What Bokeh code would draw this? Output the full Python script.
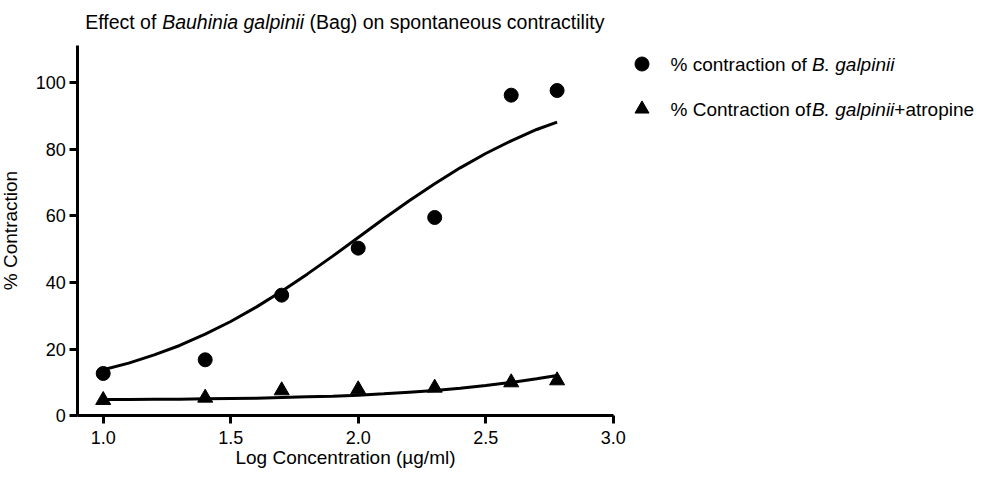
from bokeh.plotting import figure
from bokeh.models import FixedTicker, Label, Legend, LegendItem, Range1d
from bokeh.embed import file_html
from bokeh.resources import INLINE

# ---------------- data ----------------
log_conc = [1.0, 1.4, 1.7, 2.0, 2.3, 2.6, 2.78]
contraction_bag = [12.7, 16.8, 36.2, 50.3, 59.5, 96.2, 97.6]
contraction_bag_atropine = [4.7, 5.4, 7.6, 7.9, 8.4, 10.0, 10.6]

# fitted curves as drawn in the reference
fit_x = [1.0, 1.1, 1.2, 1.3, 1.4, 1.5, 1.6, 1.7, 1.8, 1.9, 2.0,
         2.1, 2.2, 2.3, 2.4, 2.5, 2.6, 2.7, 2.78]
fit_bag = [13.8, 15.8, 18.3, 21.1, 24.5, 28.3, 32.6, 37.4, 42.5, 47.9, 53.5,
           59.1, 64.5, 69.6, 74.4, 78.7, 82.5, 85.9, 88.1]
fit_bag_atropine = [4.9, 4.9, 5.0, 5.0, 5.1, 5.2, 5.3, 5.5, 5.7, 5.9, 6.2,
                    6.6, 7.1, 7.6, 8.3, 9.1, 10.0, 11.1, 12.1]

x_ticks = [1.0, 1.5, 2.0, 2.5, 3.0]
x_tick_labels = ["1.0", "1.5", "2.0", "2.5", "3.0"]
y_ticks = [0, 20, 40, 60, 80, 100]
y_tick_labels = ["0", "20", "40", "60", "80", "100"]
x_axis_bounds = (0.9, 3.0)
y_axis_bounds = (0, 111)

FONT = "Liberation Sans"

# ---------------- layout (page pixels) ----------------
W, H = 976, 472
PAGE = 8
X1_PIX, PX_PER_X = 110.7, 255.0    # page x of log conc 1.0, pixels per unit
Y0_PIX, PX_PER_Y = 423.3, 3.333    # page y of 0 %, pixels per %


def dx(px):
    return 1.0 + (px - X1_PIX) / PX_PER_X


def dy(py):
    return (Y0_PIX - py) / PX_PER_Y


# Arial / Liberation Sans advance widths (per 1000 em) for text placement
CW = {' ': 278, '%': 889, '(': 333, ')': 333, '+': 584, '.': 278, '/': 278,
      'B': 667, 'C': 722, 'E': 667, 'L': 556,
      'a': 556, 'b': 556, 'c': 500, 'd': 556, 'e': 556, 'f': 278, 'g': 556,
      'h': 556, 'i': 222, 'l': 222, 'm': 833, 'n': 556, 'o': 556, 'p': 556,
      'r': 333, 's': 500, 't': 278, 'u': 556, 'v': 500, 'y': 500}


def text_width(s, fs):
    return sum(CW.get(ch, 556) for ch in s) * fs / 1000.0


# the frame covers the whole canvas so that titles / legend are not clipped;
# the axes are drawn at fixed locations with bounds
p = figure(width=W, height=H,
           x_range=Range1d(dx(PAGE), dx(PAGE + W)),
           y_range=Range1d(dy(PAGE + H), dy(PAGE)),
           output_backend="svg", toolbar_location=None,
           min_border=0, min_border_left=0, min_border_right=0,
           min_border_top=0, min_border_bottom=0,
           x_axis_label="Log Concentration (µg/ml)",
           y_axis_label="% Contraction")
p.grid.visible = False
p.outline_line_color = None
p.background_fill_color = "white"
p.border_fill_color = "white"

for ax in (p.xaxis[0], p.yaxis[0]):
    ax.axis_line_width = 3
    ax.axis_line_color = "black"
    ax.major_tick_line_width = 3
    ax.major_tick_line_color = "black"
    ax.major_tick_in = 0
    ax.major_tick_out = 8
    ax.minor_tick_line_color = None
    ax.major_label_text_font = FONT
    ax.major_label_text_font_size = "18px"
    ax.major_label_text_color = "black"
    ax.axis_label_text_font = FONT
    ax.axis_label_text_font_size = "19px"
    ax.axis_label_text_font_style = "normal"
    ax.axis_label_text_color = "black"

p.xaxis[0].fixed_location = y_axis_bounds[0]
p.xaxis[0].bounds = x_axis_bounds
p.xaxis[0].ticker = FixedTicker(ticks=x_ticks)
p.xaxis[0].major_label_overrides = dict(zip(x_ticks, x_tick_labels))
p.xaxis[0].major_label_standoff = 7
p.xaxis[0].axis_label_standoff = 0

p.yaxis[0].fixed_location = x_axis_bounds[0]
p.yaxis[0].bounds = y_axis_bounds
p.yaxis[0].ticker = FixedTicker(ticks=y_ticks)
p.yaxis[0].major_label_overrides = dict(zip(y_ticks, y_tick_labels))
p.yaxis[0].major_label_standoff = 4
p.yaxis[0].axis_label_standoff = 11

# fitted curves
p.line(fit_x, fit_bag, line_width=3, line_color="black")
p.line(fit_x, fit_bag_atropine, line_width=3, line_color="black")

# data points
r_circ = p.scatter(log_conc, contraction_bag, marker="circle", size=14,
                   fill_color="black", line_color="black")
r_tri = p.scatter(log_conc, contraction_bag_atropine, marker="triangle", size=15,
                  fill_color="black", line_color="black")


def lab(text, px, py, fs, style="normal", baseline="alphabetic"):
    return Label(x=dx(px), y=dy(py), text=text,
                 text_font=FONT, text_font_size=f"{fs}px",
                 text_font_style=style, text_baseline=baseline,
                 text_color="black")


def add_runs(parts, start_x, py, fs, baseline):
    """Place consecutive text runs (mixed normal/italic) on one line."""
    x = start_x
    for txt, st, gap_after in parts:
        lead = len(txt) - len(txt.lstrip(" "))
        x += text_width(" " * lead, fs)          # SVG drops leading spaces
        core = txt.strip(" ")
        p.add_layout(lab(core, x, py, fs, st, baseline))
        x += text_width(core, fs)
        trail = len(txt) - len(txt.rstrip(" "))
        x += text_width(" " * trail, fs) + gap_after


# title with an italic species name
TFS = 19.5
add_runs([("Effect of ", "normal", 0), ("Bauhinia galpinii", "italic", 0),
          (" (Bag) on spontaneous contractility", "normal", 0)],
         92.7, 29, TFS, "alphabetic")

# legend: markers via Bokeh's Legend, texts as labels (mixed styles)
GLYPH = 35
ROW1_Y, ROW2_Y = 72, 117
MARK_X = 649
legend = Legend(items=[LegendItem(label=" ", renderers=[r_circ]),
                       LegendItem(label=" ", renderers=[r_tri])],
                location=(int(round(MARK_X - GLYPH / 2 - PAGE)),
                          int(round(H - (ROW2_Y + GLYPH / 2 - PAGE)))),
                glyph_width=GLYPH, glyph_height=GLYPH, label_height=GLYPH,
                spacing=int(ROW2_Y - ROW1_Y - GLYPH), padding=0, margin=0,
                label_text_font_size="1px", label_standoff=0, label_width=1,
                border_line_color=None, background_fill_alpha=0)
p.add_layout(legend)

LFS = 19
TEXT_X = 678
add_runs([("% contraction of ", "normal", 0), ("B. galpinii", "italic", 0)],
         TEXT_X, ROW1_Y, LFS, "middle")
add_runs([("% Contraction of", "normal", 1), ("B. galpinii", "italic", 0),
          ("+atropine", "normal", 0)],
         TEXT_X, ROW2_Y, LFS, "middle")

open("out.html", "w").write(file_html(p, INLINE))
